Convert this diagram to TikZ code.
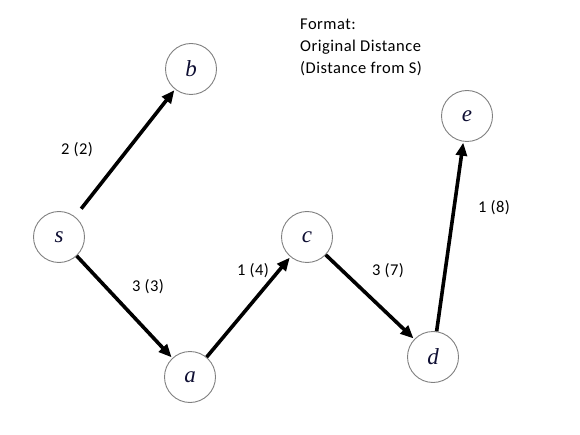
\documentclass[tikz,border=0pt]{standalone}
\usepackage{fontspec}
\usetikzlibrary{arrows.meta}
\newfontfamily\calib[LetterSpace=3]{Carlito}
\newfontfamily\vertexfont{Liberation Serif}
\definecolor{vertexink}{rgb}{0.06,0.06,0.2}
\tikzset{
  vertex/.style={circle, draw=gray, line width=0.9pt, minimum size=51pt, inner sep=0pt,
    font=\vertexfont\itshape\fontsize{23}{23}\selectfont, text=vertexink},
  hop/.style={line width=3.6pt, -{Triangle[length=13pt,width=11pt]}, shorten >=1pt},
  lbl/.style={font=\calib\fontsize{16.5}{22}\selectfont, inner sep=0pt}
}
\begin{document}
\begin{tikzpicture}[x=1pt,y=-1pt]
    \fill[white] (0,0) rectangle (580,435);
    \useasboundingbox (0,0) rectangle (580,435);
    % vertices
    \node[vertex] (s) at (59,237) {s};
    \node[vertex] (b) at (191,69) {b};
    \node[vertex] (a) at (190,377) {a};
    \node[vertex] (c) at (307,237) {c};
    \node[vertex] (d) at (433,357) {d};
    \node[vertex] (e) at (467,116) {e};
    % shortest paths from s
    \draw[hop, shorten <=10pt] (s) -- (b);
    \draw[hop] (s) -- (a);
    \draw[hop] (a) -- (c);
    \draw[hop] (c) -- (d);
    \draw[hop] (d) -- (e);
    % weights
    \node[lbl] (wsb) at (77,150) {2 (2)};
    \node[lbl] (wsa) at (148,287) {3 (3)};
    \node[lbl] (wac) at (253,271) {1 (4)};
    \node[lbl] (wcd) at (388,271) {3 (7)};
    \node[lbl] (wde) at (494,208) {1 (8)};
    \node[lbl, anchor=north west, align=left] (fmt) at (300,19) {Format:\\Original Distance\\(Distance from S)};
\end{tikzpicture}
\end{document}
